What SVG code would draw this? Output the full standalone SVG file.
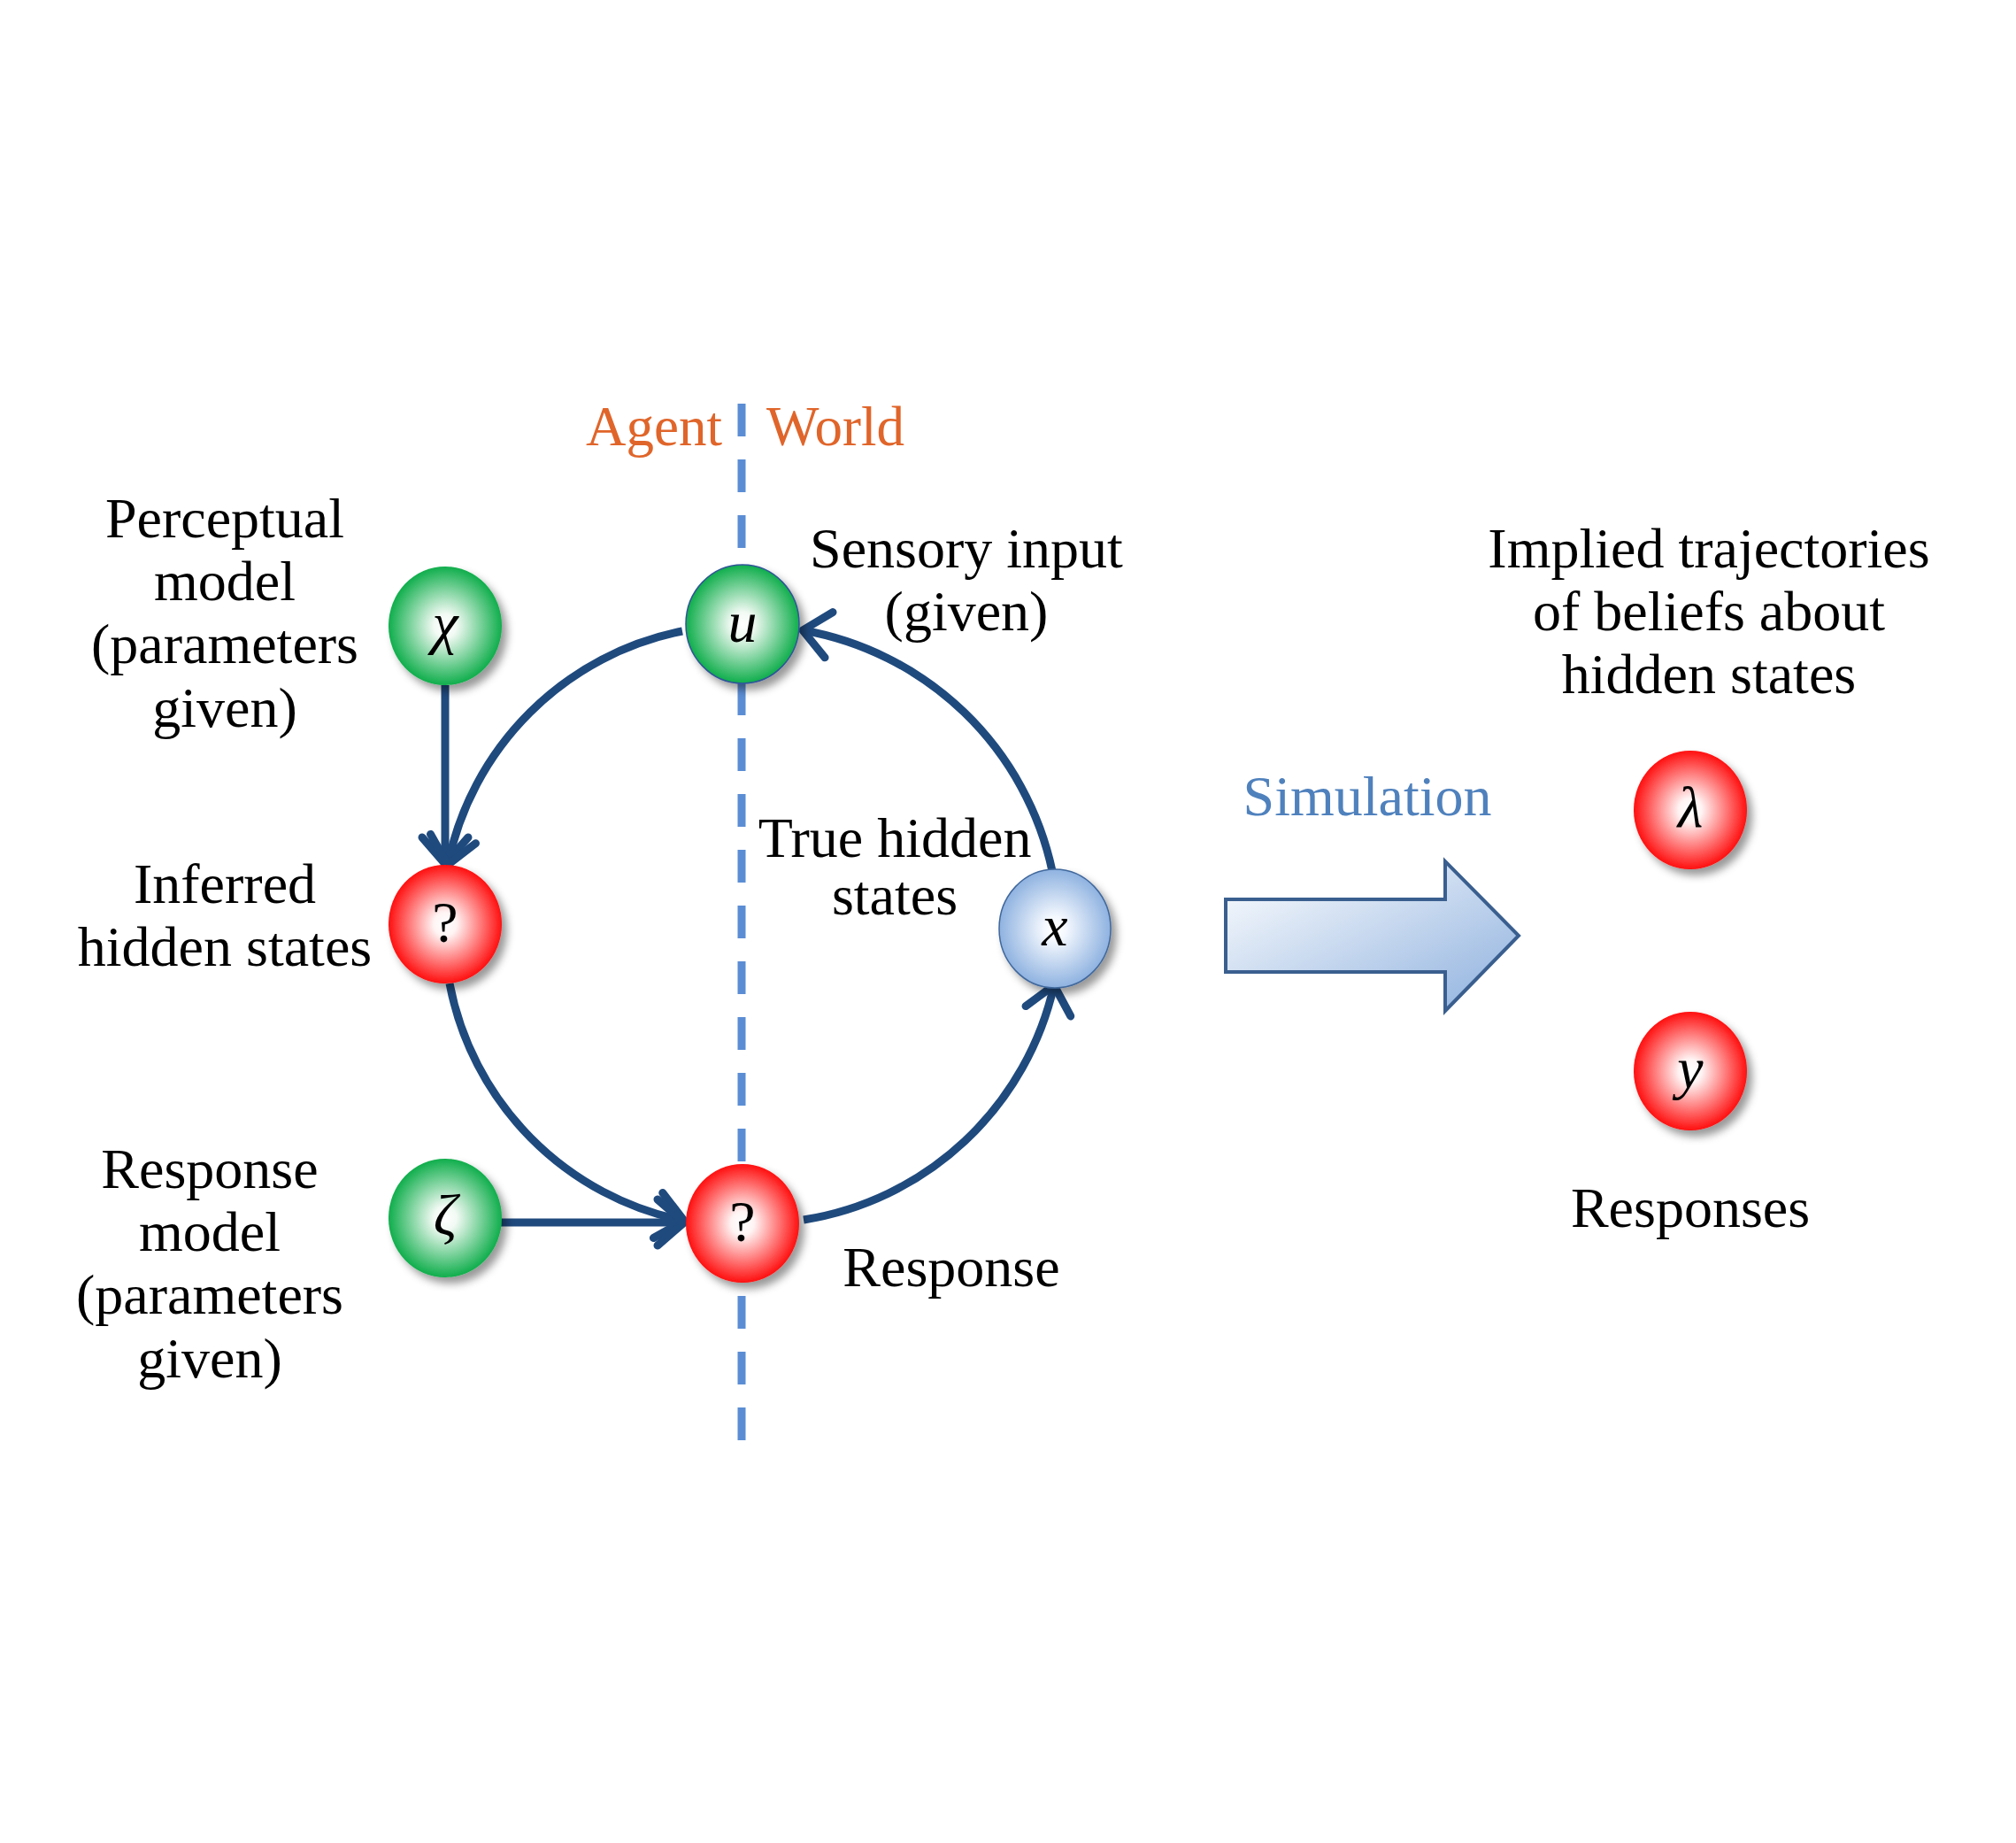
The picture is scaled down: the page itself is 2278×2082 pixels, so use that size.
<svg xmlns="http://www.w3.org/2000/svg" width="2278" height="2082" viewBox="0 0 2278 2082">
<style>
.lbl{font-family:"Liberation Serif","Times New Roman",serif;font-size:64px;fill:#000;text-anchor:middle}
.org{font-family:"Liberation Serif",serif;font-size:63px;fill:#E0652A}
.sim{font-family:"Liberation Serif",serif;font-size:64px;fill:#4F81BD;text-anchor:middle}
.sym{font-family:"Liberation Serif",serif;font-size:66px;font-style:italic;fill:#000;text-anchor:middle}
.q{font-family:"Liberation Serif",serif;font-size:66px;fill:#000;text-anchor:middle}
.con{fill:none;stroke:#1F4A7E;stroke-width:9}
</style>
<defs>
<radialGradient id="gG" cx="50%" cy="50%" r="50%">
<stop offset="0" stop-color="#ffffff"/><stop offset="0.2" stop-color="#f2faf4"/><stop offset="1" stop-color="#10AE4C"/>
</radialGradient>
<radialGradient id="gR" cx="50%" cy="50%" r="50%">
<stop offset="0" stop-color="#ffffff"/><stop offset="0.2" stop-color="#fff4f4"/><stop offset="1" stop-color="#FF1010"/>
</radialGradient>
<radialGradient id="gB" cx="50%" cy="50%" r="50%">
<stop offset="0" stop-color="#ffffff"/><stop offset="0.2" stop-color="#f4f8fe"/><stop offset="1" stop-color="#8EB2E0"/>
</radialGradient>
<linearGradient id="gA" x1="0" y1="0" x2="1" y2="1">
<stop offset="0" stop-color="#ffffff"/><stop offset="1" stop-color="#8DB0DE"/>
</linearGradient>
<filter id="sh" x="-30%" y="-30%" width="170%" height="170%">
<feDropShadow dx="6" dy="7" stdDeviation="5" flood-color="#000" flood-opacity="0.4"/>
</filter>
<marker id="arr" markerUnits="userSpaceOnUse" viewBox="-45 -40 55 80" markerWidth="55" markerHeight="80" refX="0" refY="0" orient="auto" overflow="visible">
<path d="M-30,-26 L0,0 L-30,26" fill="none" stroke="#1F4A7E" stroke-width="9" stroke-linecap="round" stroke-linejoin="round"/>
</marker>
</defs>
<rect width="2278" height="2082" fill="#fff"/>

<g id="divider">
<line x1="838" y1="456" x2="838" y2="1627" stroke="#5B8DD4" stroke-width="9" stroke-dasharray="37 26"/>
<text class="org" x="816" y="503" text-anchor="end">Agent</text>
<text class="org" x="866" y="503">World</text>
</g>

<g id="connectors">
<line class="con" x1="503" y1="774" x2="503" y2="976" marker-end="url(#arr)"/>
<path class="con" d="M771,713 A338,338 0 0 0 506,977" marker-end="url(#arr)"/>
<path class="con" d="M508,1111 A338,338 0 0 0 773,1379" marker-end="url(#arr)"/>
<line class="con" x1="566" y1="1381" x2="773" y2="1381" marker-end="url(#arr)"/>
<path class="con" d="M908,1378 A345,345 0 0 0 1191,1113" marker-end="url(#arr)"/>
<path class="con" d="M1189,984 A350,350 0 0 0 907,712" marker-end="url(#arr)"/>
</g>

<g id="node-chi">
<ellipse cx="503" cy="707" rx="64" ry="67" fill="url(#gG)" filter="url(#sh)"/>
<text class="sym" x="503" y="726">χ</text>
</g>
<g id="node-u">
<ellipse cx="839" cy="705" rx="64" ry="67" fill="url(#gG)" stroke="#2F5597" stroke-width="1.5" filter="url(#sh)"/>
<text class="sym" x="839" y="725">u</text>
</g>
<g id="node-inferred">
<ellipse cx="503" cy="1044" rx="64" ry="67" fill="url(#gR)" filter="url(#sh)"/>
<text class="q" x="503" y="1064">?</text>
</g>
<g id="node-x">
<ellipse cx="1192" cy="1049" rx="63" ry="67" fill="url(#gB)" stroke="#41689C" stroke-width="1.5" filter="url(#sh)"/>
<text class="sym" x="1192" y="1068">x</text>
</g>
<g id="node-zeta">
<ellipse cx="503" cy="1376" rx="64" ry="67" fill="url(#gG)" filter="url(#sh)"/>
<text class="sym" x="503" y="1395">ζ</text>
</g>
<g id="node-response">
<ellipse cx="839" cy="1382" rx="64" ry="67" fill="url(#gR)" filter="url(#sh)"/>
<text class="q" x="839" y="1402">?</text>
</g>
<g id="node-lambda">
<ellipse cx="1910" cy="915" rx="64" ry="67" fill="url(#gR)" filter="url(#sh)"/>
<text class="sym" x="1910" y="934">λ</text>
</g>
<g id="node-y">
<ellipse cx="1910" cy="1210" rx="64" ry="67" fill="url(#gR)" filter="url(#sh)"/>
<text class="sym" x="1910" y="1229">y</text>
</g>

<g id="labels">
<text class="lbl" x="254" y="607">Perceptual</text>
<text class="lbl" x="254" y="678">model</text>
<text class="lbl" x="254" y="749">(parameters</text>
<text class="lbl" x="254" y="821">given)</text>
<text class="lbl" x="254" y="1020">Inferred</text>
<text class="lbl" x="254" y="1091">hidden states</text>
<text class="lbl" x="237" y="1342">Response</text>
<text class="lbl" x="237" y="1413">model</text>
<text class="lbl" x="237" y="1484">(parameters</text>
<text class="lbl" x="237" y="1556">given)</text>
<text class="lbl" x="1092" y="641">Sensory input</text>
<text class="lbl" x="1092" y="712">(given)</text>
<text class="lbl" x="1011" y="968">True hidden</text>
<text class="lbl" x="1011" y="1033">states</text>
<text class="lbl" x="1075" y="1453">Response</text>
<text class="lbl" x="1931" y="641">Implied trajectories</text>
<text class="lbl" x="1931" y="712">of beliefs about</text>
<text class="lbl" x="1931" y="783">hidden states</text>
<text class="lbl" x="1910" y="1386">Responses</text>
</g>

<g id="simulation">
<text class="sim" x="1545" y="921">Simulation</text>
<path d="M1385,1016 L1633,1016 L1633,973 L1716,1057 L1633,1142 L1633,1098 L1385,1098 Z" fill="url(#gA)" stroke="#3A5F8F" stroke-width="4"/>
</g>
</svg>
